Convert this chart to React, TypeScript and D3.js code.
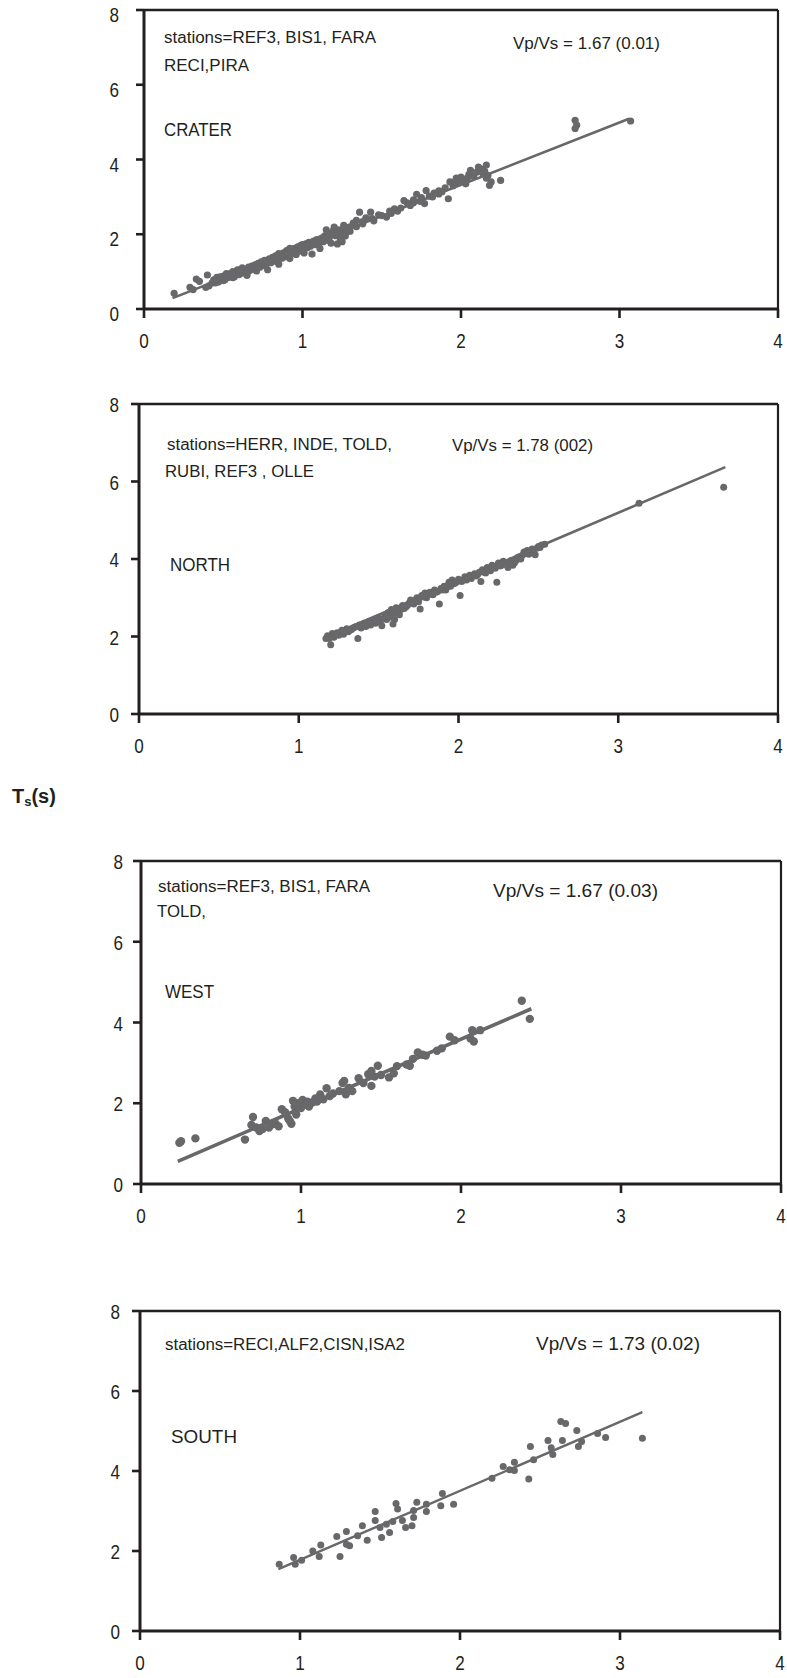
import React, { useEffect } from "react";
import * as d3 from "d3";

// ---------- data ----------
const X_TICKS = [0, 1, 2, 3, 4];
const Y_TICKS = [0, 2, 4, 6, 8];

const craterPoints: [number, number][] = [
  [0.19,0.42],[0.29,0.58],[0.31,0.52],[0.33,0.80],[0.35,0.74],[0.39,0.58],[0.40,0.91],[0.41,0.62],[0.43,0.70],[0.44,0.78],
  [0.46,0.85],[0.47,0.72],[0.49,0.80],[0.50,0.88],[0.51,0.78],[0.52,0.95],[0.53,0.84],[0.55,0.90],[0.56,1.00],[0.57,0.86],
  [0.58,0.96],[0.59,1.05],[0.60,0.92],[0.61,1.00],[0.62,1.10],[0.63,0.98],[0.64,1.06],[0.65,0.90],[0.66,1.12],[0.67,1.04],
  [0.68,1.15],[0.69,1.08],[0.70,1.18],[0.71,1.02],[0.72,1.22],[0.73,1.12],[0.74,1.26],[0.75,1.16],[0.76,1.30],[0.77,1.20],
  [0.78,1.05],[0.79,1.34],[0.80,1.24],[0.81,1.38],[0.82,1.28],[0.83,1.42],[0.84,1.30],[0.85,1.20],[0.86,1.46],[0.87,1.36],
  [0.88,1.50],[0.89,1.40],[0.90,1.56],[0.91,1.44],[0.92,1.35],[0.93,1.58],[0.94,1.50],[0.95,1.62],[0.96,1.46],[0.97,1.66],
  [0.98,1.55],[0.99,1.70],[1.00,1.60],[1.01,1.50],[1.02,1.74],[1.03,1.64],[1.04,1.78],[1.05,1.68],[1.06,1.47],[1.07,1.82],
  [1.08,1.72],[1.09,1.86],[1.10,1.76],[1.11,1.62],[1.12,1.90],[1.13,1.80],[1.14,1.96],[1.15,1.84],[1.16,2.02],[1.17,1.92],
  [1.18,1.76],[1.19,2.08],[1.20,2.19],[1.21,1.96],[1.22,1.74],[1.23,2.12],[1.24,1.86],[1.25,2.01],[1.26,2.24],[1.27,1.95],
  [1.28,2.18],[1.30,2.08],[1.32,2.30],[1.34,2.37],[1.36,2.59],[1.38,2.28],[1.40,2.44],[1.43,2.59],[1.45,2.36],[1.48,2.52],
  [1.53,2.46],[1.55,2.62],[1.58,2.68],[1.62,2.70],[1.64,2.90],[1.66,2.84],[1.68,2.77],[1.70,2.92],[1.72,3.07],[1.75,2.98],
  [1.77,2.82],[1.78,3.17],[1.80,3.02],[1.83,3.10],[1.86,3.08],[1.88,3.14],[1.90,3.24],[1.92,2.95],[1.93,3.40],[1.95,3.30],
  [1.97,3.50],[1.98,3.38],[2.00,3.53],[2.02,3.45],[2.03,3.35],[2.05,3.60],[2.06,3.71],[2.08,3.55],[2.10,3.66],[2.11,3.80],
  [2.13,3.74],[2.15,3.68],[2.16,3.85],[2.17,3.57],[2.18,3.31],[2.19,3.40],[2.25,3.44],[2.72,5.05],[2.72,4.83],[2.73,4.92],
  [3.07,5.03],
  [0.45,0.70],[0.48,0.86],[0.50,0.76],[0.54,0.94],[0.56,0.84],[0.60,1.04],[0.62,0.96],[0.66,1.02],[0.68,1.08],[0.70,1.10],
  [0.72,1.16],[0.74,1.20],[0.76,1.22],[0.78,1.28],[0.80,1.32],[0.82,1.34],[0.84,1.40],[0.86,1.38],[0.88,1.44],[0.90,1.48],
  [0.92,1.52],[0.94,1.56],[0.96,1.58],[0.98,1.62],[1.00,1.66],[1.02,1.68],[1.04,1.72],[1.06,1.76],[1.08,1.80],[1.10,1.84],
  [1.12,1.84],[1.14,1.88],[1.16,1.92],[1.18,1.98],[1.20,2.02],[1.22,2.04],[1.24,2.10],[1.26,2.14],[1.28,2.06],[1.30,2.20],
  [1.15,2.12],[1.25,1.80],[1.00,1.72],[0.92,1.62],[0.85,1.48],[1.44,2.42],[1.50,2.50],[1.56,2.56],[1.60,2.62],[1.34,2.20],
  [1.38,2.34],[1.96,3.40],[2.00,3.42],[2.04,3.50],[2.14,3.62],[2.16,3.50],[1.70,2.84],[1.74,2.88],[1.82,3.00],[1.86,3.16],
];
const craterLine: [number, number][] = [[0.18, 0.29], [3.06, 5.09]];

const northPoints: [number, number][] = [
  [1.17,1.95],[1.18,2.02],[1.20,1.79],[1.21,2.08],[1.22,1.98],[1.24,2.10],[1.25,2.03],[1.27,2.16],[1.28,2.06],[1.30,2.20],
  [1.31,2.12],[1.33,2.18],[1.35,2.24],[1.37,1.95],[1.38,2.30],[1.39,2.22],[1.41,2.34],[1.42,2.26],[1.44,2.38],[1.45,2.30],
  [1.47,2.42],[1.48,2.34],[1.50,2.48],[1.51,2.38],[1.52,2.28],[1.54,2.55],[1.55,2.44],[1.56,2.62],[1.57,2.50],[1.58,2.70],
  [1.59,2.32],[1.60,2.44],[1.61,2.74],[1.62,2.60],[1.63,2.56],[1.65,2.80],[1.67,2.76],[1.69,2.86],[1.70,2.94],[1.72,2.84],
  [1.74,3.00],[1.75,2.90],[1.76,2.71],[1.77,3.06],[1.79,3.12],[1.80,3.00],[1.82,3.14],[1.84,3.08],[1.85,3.20],[1.87,3.16],
  [1.88,2.84],[1.89,3.24],[1.91,3.30],[1.92,3.20],[1.94,3.40],[1.95,3.30],[1.96,3.46],[1.98,3.38],[2.00,3.48],[2.01,3.06],
  [2.02,3.42],[2.04,3.54],[2.05,3.46],[2.07,3.58],[2.08,3.50],[2.10,3.62],[2.11,3.56],[2.13,3.66],[2.14,3.42],[2.15,3.72],
  [2.17,3.64],[2.18,3.78],[2.20,3.70],[2.21,3.84],[2.23,3.76],[2.24,3.40],[2.25,3.90],[2.27,3.84],[2.28,3.94],[2.30,3.86],
  [2.31,3.78],[2.33,3.96],[2.35,3.90],[2.37,4.04],[2.39,4.00],[2.41,4.18],[2.43,4.22],[2.44,4.12],[2.46,4.26],[2.48,4.11],
  [2.50,4.32],[2.52,4.36],[2.54,4.38],[3.13,5.44],[3.66,5.85],
  [1.19,1.95],[1.23,2.05],[1.26,2.10],[1.29,2.14],[1.32,2.16],[1.34,2.22],[1.36,2.26],[1.40,2.28],[1.43,2.32],[1.46,2.36],
  [1.49,2.40],[1.53,2.46],[1.56,2.52],[1.59,2.58],[1.62,2.66],[1.64,2.70],[1.66,2.72],[1.68,2.80],[1.71,2.88],[1.73,2.94],
  [1.78,3.02],[1.81,3.08],[1.83,3.12],[1.86,3.14],[1.90,3.20],[1.93,3.28],[1.97,3.36],[1.99,3.42],[2.03,3.46],[2.06,3.52],
  [2.09,3.56],[2.12,3.60],[2.16,3.66],[2.19,3.72],[2.22,3.78],[2.26,3.82],[2.29,3.88],[2.32,3.92],[2.34,3.84],[2.36,3.96],
  [2.38,4.06],[2.40,4.10],[2.42,4.14],[2.45,4.20],[2.47,4.24],[2.49,4.28],[2.51,4.30],
];
const northLine: [number, number][] = [[1.17, 1.98], [3.67, 6.37]];

const westPoints: [number, number][] = [
  [0.24,1.02],[0.25,1.06],[0.34,1.13],[0.65,1.10],[0.69,1.46],[0.70,1.66],[0.72,1.40],[0.74,1.31],[0.76,1.36],[0.78,1.56],
  [0.80,1.40],[0.82,1.48],[0.84,1.50],[0.86,1.43],[0.88,1.85],[0.90,1.78],[0.92,1.62],[0.93,1.56],[0.94,1.49],[0.95,2.06],
  [0.96,1.92],[0.97,1.72],[0.98,2.00],[1.00,1.88],[1.01,2.08],[1.02,1.96],[1.04,2.04],[1.05,1.92],[1.07,2.02],[1.09,2.12],
  [1.10,2.04],[1.12,2.22],[1.14,2.10],[1.16,2.37],[1.18,2.18],[1.20,2.24],[1.24,2.30],[1.26,2.50],[1.27,2.55],[1.28,2.22],
  [1.30,2.38],[1.32,2.30],[1.36,2.62],[1.39,2.50],[1.42,2.72],[1.44,2.43],[1.44,2.80],[1.46,2.66],[1.48,2.93],[1.50,2.70],
  [1.55,2.64],[1.58,2.74],[1.60,2.92],[1.66,2.96],[1.68,2.93],[1.70,3.10],[1.73,3.26],[1.76,3.20],[1.78,3.18],[1.85,3.30],
  [1.88,3.36],[1.93,3.65],[1.96,3.56],[2.06,3.60],[2.07,3.81],[2.08,3.53],[2.12,3.81],[2.38,4.54],[2.43,4.09],
];
const westLine: [number, number][] = [[0.23, 0.56], [2.44, 4.34]];

const southPoints: [number, number][] = [
  [0.87,1.67],[0.96,1.84],[0.97,1.67],[1.01,1.77],[1.08,2.00],[1.12,1.86],[1.13,2.15],[1.23,2.36],[1.25,1.86],[1.29,2.49],
  [1.29,2.17],[1.31,2.13],[1.36,2.38],[1.39,2.63],[1.42,2.27],[1.47,2.99],[1.47,2.76],[1.50,2.59],[1.51,2.34],[1.54,2.67],
  [1.56,2.46],[1.58,2.74],[1.60,3.19],[1.61,3.05],[1.64,2.76],[1.66,2.59],[1.70,2.63],[1.71,2.84],[1.71,3.01],[1.73,3.22],
  [1.79,3.17],[1.79,2.99],[1.88,3.13],[1.89,3.44],[1.96,3.17],[2.20,3.82],[2.27,4.11],[2.31,4.03],[2.34,4.22],[2.34,4.01],
  [2.43,3.80],[2.44,4.61],[2.46,4.28],[2.55,4.76],[2.57,4.58],[2.58,4.41],[2.63,5.24],[2.64,4.76],[2.66,5.19],[2.73,5.01],
  [2.74,4.61],[2.76,4.74],[2.86,4.94],[2.91,4.84],[3.14,4.82],
];
const southLine: [number, number][] = [[0.865, 1.545], [3.14, 5.47]];

// ---------- layout ----------
type Label = { text: string; x: number; y: number; size: number; w: number };
type PanelCfg = {
  left: number; right: number; top: number; bottom: number;
  points: [number, number][]; line: [number, number][];
  r: number; lw: number; yLabelGap: number; yLabelDy: number;
  labels: Label[];
};

const panels: PanelCfg[] = [
  {
    left: 144, right: 778, top: 10, bottom: 309, points: craterPoints, line: craterLine,
    r: 3.6, lw: 2.6, yLabelGap: 25, yLabelDy: 5,
    labels: [
      { text: "stations=REF3, BIS1, FARA", x: 164, y: 43, size: 16, w: 212 },
      { text: "RECI,PIRA", x: 164, y: 71, size: 16, w: 85 },
      { text: "CRATER", x: 164, y: 136, size: 18, w: 68 },
      { text: "Vp/Vs = 1.67 (0.01)", x: 513, y: 49, size: 16, w: 147 },
    ],
  },
  {
    left: 139, right: 778, top: 404, bottom: 714, points: northPoints, line: northLine,
    r: 3.5, lw: 2.6, yLabelGap: 20, yLabelDy: 1,
    labels: [
      { text: "stations=HERR, INDE, TOLD,", x: 167, y: 450, size: 16, w: 225 },
      { text: "RUBI, REF3 , OLLE", x: 165, y: 477, size: 16, w: 149 },
      { text: "NORTH", x: 170, y: 571, size: 18, w: 60 },
      { text: "Vp/Vs = 1.78 (002)", x: 452, y: 451, size: 16, w: 141 },
    ],
  },
  {
    left: 141, right: 781, top: 861, bottom: 1184, points: westPoints, line: westLine,
    r: 4.2, lw: 3.6, yLabelGap: 18, yLabelDy: 1,
    labels: [
      { text: "stations=REF3, BIS1, FARA", x: 158, y: 892, size: 16, w: 212 },
      { text: "TOLD,", x: 157, y: 917, size: 16, w: 49 },
      { text: "WEST", x: 165, y: 998, size: 18, w: 49 },
      { text: "Vp/Vs = 1.67 (0.03)", x: 493, y: 897, size: 19, w: 165 },
    ],
  },
  {
    left: 140, right: 780, top: 1311, bottom: 1631, points: southPoints, line: southLine,
    r: 3.5, lw: 2.4, yLabelGap: 20, yLabelDy: 1,
    labels: [
      { text: "stations=RECI,ALF2,CISN,ISA2", x: 165, y: 1350, size: 16, w: 240 },
      { text: "SOUTH", x: 171, y: 1443, size: 19, w: 66 },
      { text: "Vp/Vs = 1.73 (0.02)", x: 536, y: 1350, size: 19, w: 164 },
    ],
  },
];

const FONT = "'Liberation Sans', Arial, Helvetica, sans-serif";
const INK = "#231f20";
const GRAY = "#68686a";

function Panel({ cfg }: { cfg: PanelCfg }) {
  const x = d3.scaleLinear().domain([0, 4]).range([cfg.left, cfg.right]);
  const y = d3.scaleLinear().domain([0, 8]).range([cfg.bottom, cfg.top]);
  const lineGen = d3.line<[number, number]>().x((d) => x(d[0])).y((d) => y(d[1]));
  return (
    <g>
      {/* plot-area box */}
      <line x1={x(0)} x2={x(4)} y1={y(8)} y2={y(8)} stroke={INK} strokeWidth={2.4} />
      <line x1={x(4)} x2={x(4)} y1={y(8)} y2={y(0)} stroke={INK} strokeWidth={2.2} />
      {/* data */}
      {cfg.points.map((d, i) => (
        <circle key={i} cx={x(d[0])} cy={y(d[1])} r={cfg.r} fill={GRAY} />
      ))}
      <path d={lineGen(cfg.line) || ""} stroke={GRAY} strokeWidth={cfg.lw} fill="none" />
      {/* axes */}
      <line x1={x(0)} x2={x(0)} y1={y(8) - 1} y2={y(0) + 1} stroke={INK} strokeWidth={3} />
      <line x1={x(0) - 1} x2={x(4) + 1} y1={y(0)} y2={y(0)} stroke={INK} strokeWidth={3} />
      {Y_TICKS.map((t) => (
        <g key={"y" + t}>
          <line x1={x(0) - 8} x2={x(0)} y1={y(t)} y2={y(t)} stroke={INK} strokeWidth={2.6} />
          <text x={x(0) - cfg.yLabelGap} y={y(t) + cfg.yLabelDy} textAnchor="end" dominantBaseline="central"
            fontFamily={FONT} fontSize={20} fill={INK} textLength={9.5} lengthAdjust="spacingAndGlyphs">{t}</text>
        </g>
      ))}
      {X_TICKS.map((t) => (
        <g key={"x" + t}>
          <line x1={x(t)} x2={x(t)} y1={y(0)} y2={y(0) + 9} stroke={INK} strokeWidth={2.6} />
          <text x={x(t)} y={y(0) + 32} textAnchor="middle" dominantBaseline="central"
            fontFamily={FONT} fontSize={20} fill={INK} textLength={9.5} lengthAdjust="spacingAndGlyphs">{t}</text>
        </g>
      ))}
      {cfg.labels.map((l, i) => (
        <text key={i} x={l.x} y={l.y} fontFamily={FONT} fontSize={l.size} fill={INK}
          textLength={l.w} lengthAdjust="spacingAndGlyphs">{l.text}</text>
      ))}
    </g>
  );
}

export default function App() {
  useEffect(() => {
    document.body.style.margin = "0";
  }, []);
  return (
    <svg width={787} height={1678} style={{ display: "block", position: "absolute", left: 0, top: 0, background: "#fff" }}>
      <rect x={0} y={0} width={787} height={1678} fill="#fff" />
      {panels.map((p, i) => (
        <Panel key={i} cfg={p} />
      ))}
      <text x={12} y={803} fontFamily={FONT} fontWeight="bold" fontSize={20} fill={INK}>
        T<tspan fontSize={13} dy={3}>s</tspan><tspan dy={-3} fontSize={20}>(s)</tspan>
      </text>
    </svg>
  );
}
